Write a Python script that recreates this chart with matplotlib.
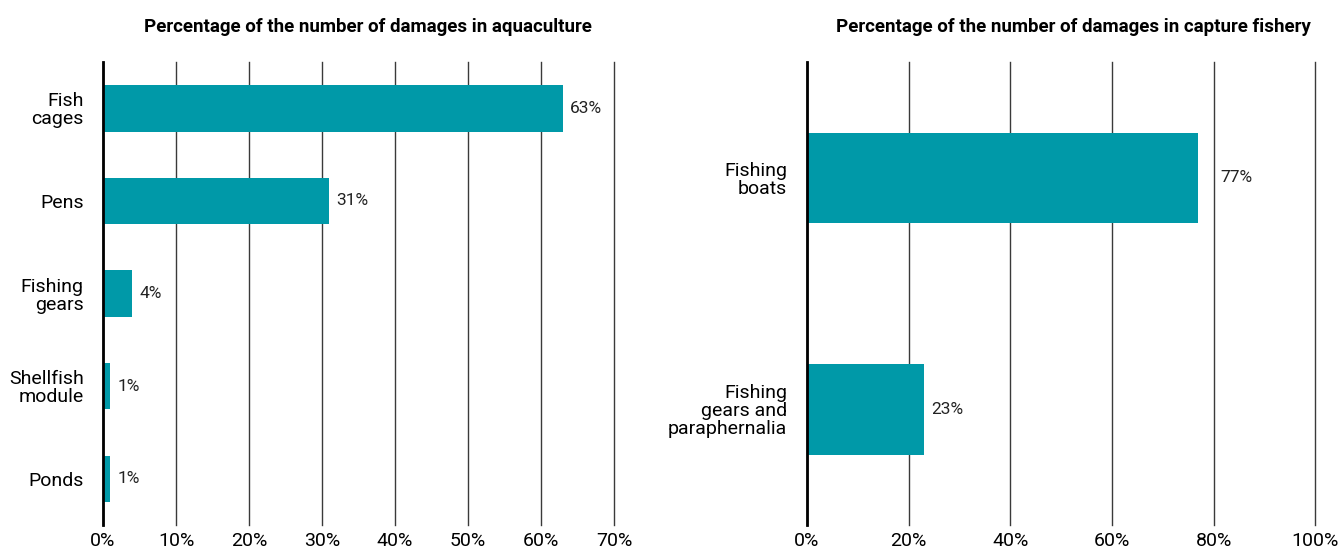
import numpy as np
import matplotlib.pyplot as plt

plt.rcParams['font.family'] = ['Roboto', 'DejaVu Sans']

# Aquaculture
aqua_labels = ['Fish\ncages', 'Pens', 'Fishing\ngears', 'Shellfish\nmodule', 'Ponds']
aqua_values = [63, 31, 4, 1, 1]
aqua_ticks = [0, 10, 20, 30, 40, 50, 60, 70]

# Capture fishery
fish_labels = ['Fishing\nboats', 'Fishing\ngears and\nparaphernalia']
fish_values = [77, 23]
fish_ticks = [0, 20, 40, 60, 80, 100]

bar_color = '#0099a8'

fig = plt.figure(figsize=(13.38, 5.54), dpi=100)
ax1 = fig.add_axes([0.077, 0.052, 0.382, 0.836])
ax2 = fig.add_axes([0.603, 0.052, 0.380, 0.836])


def style(ax, labels, values, ticks, height):
    y = np.arange(len(labels))
    ax.barh(y, values, height=height, color=bar_color, zorder=3)
    px = ticks[-1] / (ax.get_position().width * fig.get_figwidth() * fig.dpi)
    for yi, v in zip(y, values):
        xt = v + 7 * px
        # keep the label clear of a grid line
        for t in ticks:
            if v < t < xt + 32 * px:
                xt = t + 7 * px
        ax.text(xt, yi, f'{v}%', va='center', ha='left',
                fontsize=12.5, color='#222222')
    ax.set_yticks(y)
    ax.set_yticklabels(labels, fontsize=14, linespacing=1.0)
    ax.set_ylim(len(labels) - 0.5, -0.5)
    ax.set_xlim(0, ticks[-1])
    ax.set_xticks(ticks)
    ax.set_xticklabels([f'{t}%' for t in ticks], fontsize=14)
    ax.grid(axis='x', color='#3a3a3a', linewidth=1, zorder=0)
    for gl in ax.get_xgridlines():
        gl.set_clip_on(False)
    for s in ['top', 'right', 'bottom']:
        ax.spines[s].set_visible(False)
    ax.spines['left'].set_linewidth(2)
    ax.spines['left'].set_color('black')
    ax.spines['left'].set_zorder(4)
    ax.tick_params(axis='both', length=0)
    ax.tick_params(axis='y', pad=14)
    ax.tick_params(axis='x', pad=5)


style(ax1, aqua_labels, aqua_values, aqua_ticks, 0.5)
style(ax2, fish_labels, fish_values, fish_ticks, 0.39)

fig.text(0.275, 0.951, 'Percentage of the number of damages in aquaculture',
         ha='center', va='center', fontsize=13.5, fontweight='bold')
fig.text(0.802, 0.951, 'Percentage of the number of damages in capture fishery',
         ha='center', va='center', fontsize=13.5, fontweight='bold')

fig.savefig('out.png', dpi=100)
